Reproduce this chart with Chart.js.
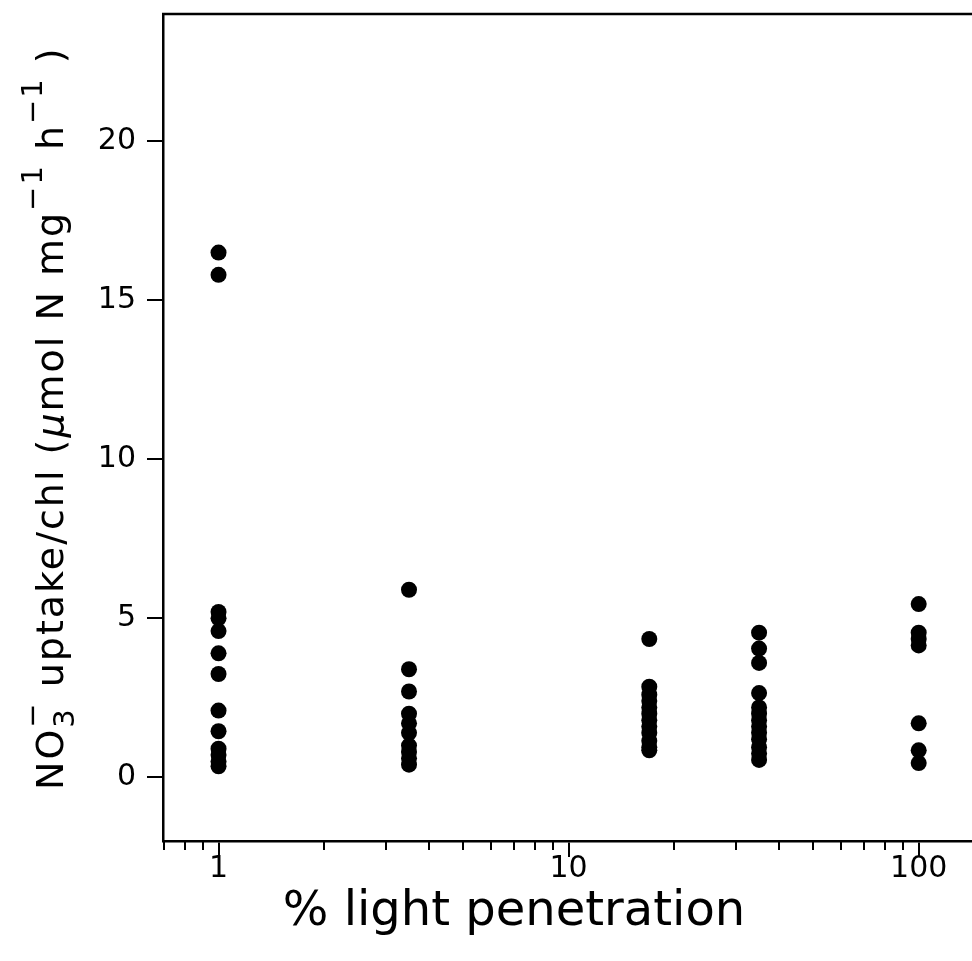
<!DOCTYPE html>
<html>
<head>
<meta charset="utf-8">
<script src="https://cdn.jsdelivr.net/npm/chart.js@4.4.1/dist/chart.umd.min.js"></script>
<style>
  html, body { margin: 0; padding: 0; background: #fff; }
  #wrap { width: 972px; height: 961px; }
</style>
</head>
<body>
<div id="wrap"><canvas id="c" width="972" height="961"></canvas></div>
<script>
// ----- data -----
const lightLevels = [1, 3.5, 17, 35, 100];
const uptake1   = [16.5, 15.8, 5.2, 5.0, 4.6, 3.9, 3.25, 2.1, 1.45, 0.9, 0.7, 0.5, 0.35];
const uptake3_5 = [5.9, 3.4, 2.7, 2.0, 1.7, 1.4, 1.0, 0.8, 0.6, 0.4];
const uptake17  = [4.35, 2.85, 2.6, 2.4, 2.2, 2.0, 1.8, 1.6, 1.4, 1.15, 0.95, 0.85];
const uptake35  = [4.55, 4.05, 3.6, 2.65, 2.2, 2.0, 1.8, 1.6, 1.4, 1.2, 0.95, 0.75, 0.55];
const uptake100 = [5.45, 4.55, 4.35, 4.15, 1.7, 0.85, 0.45];
const xMajorTicks = [1, 10, 100];
const xMinorTicks = [0.7, 0.8, 0.9, 2, 3, 4, 5, 6, 7, 8, 9, 20, 30, 40, 50, 60, 70, 80, 90];
const yTicks = [0, 5, 10, 15, 20];
const xRange = [0.694, 142];
const yRange = [-2, 24];
const xTitle = '% light penetration';

const groups = [uptake1, uptake3_5, uptake17, uptake35, uptake100];
const points = [];
groups.forEach((g, i) => g.forEach(v => points.push({ x: lightLevels[i], y: v })));

const FONT = "'DejaVu Sans', 'Liberation Sans', sans-serif";

const zeroPad = s => { s.paddingTop = 0; s.paddingBottom = 0; s.paddingLeft = 0; s.paddingRight = 0; };

const extraPlugin = {
  id: 'extra',
  afterDraw(chart) {
    const ctx = chart.ctx;
    const a = chart.chartArea;
    const xs = chart.scales.x;
    ctx.save();
    ctx.strokeStyle = '#000';
    // top border
    ctx.lineWidth = 2.5;
    ctx.beginPath();
    ctx.moveTo(a.left - 1, a.top);
    ctx.lineTo(a.right, a.top);
    ctx.stroke();
    // minor ticks on the log axis
    ctx.lineWidth = 2;
    xMinorTicks.forEach(v => {
      if (v < xRange[0] || v > xRange[1]) return;
      const px = Math.round(xs.getPixelForValue(v));
      ctx.beginPath();
      ctx.moveTo(px, a.bottom);
      ctx.lineTo(px, a.bottom + 9);
      ctx.stroke();
    });
    // x-axis title
    ctx.fillStyle = '#000';
    ctx.font = '48px ' + FONT;
    ctx.textAlign = 'center';
    ctx.textBaseline = 'alphabetic';
    ctx.fillText(xTitle, 514, 925);

    // y-axis title with sub/superscripts
    const size = 38;
    ctx.letterSpacing = '2px';
    const segs = [
      { t: 'NO', k: 'n' },
      { t: '3', k: 'sub', stackWith: '\u2212' },
      { t: ' uptake/chl (', k: 'n' },
      { t: '\u03bc', k: 'n', italic: true },
      { t: 'mol N mg', k: 'n' },
      { t: '\u22121', k: 'sup' },
      { t: ' h', k: 'n' },
      { t: '\u22121', k: 'sup' },
      { t: ' )', k: 'n' }
    ];
    const fontFor = (s, small) => (s.italic ? 'italic ' : '') + (small ? Math.round(size * 0.75) : size) + 'px ' + FONT;
    let total = 0;
    segs.forEach(s => {
      ctx.font = fontFor(s, s.k !== 'n');
      let w = ctx.measureText(s.t).width;
      if (s.stackWith) w = Math.max(w, ctx.measureText(s.stackWith).width);
      s.w = w;
      total += w;
    });
    ctx.translate(63, 790 - total / 2);
    ctx.rotate(-Math.PI / 2);
    ctx.textAlign = 'left';
    let x = -total / 2;
    segs.forEach(s => {
      ctx.font = fontFor(s, s.k !== 'n');
      if (s.k === 'n') ctx.fillText(s.t, x, 0);
      else if (s.k === 'sub') {
        ctx.fillText(s.t, x, size * 0.3);
        if (s.stackWith) ctx.fillText(s.stackWith, x, -size * 0.55);
      } else ctx.fillText(s.t, x, -size * 0.55);
      x += s.w;
    });
    ctx.restore();
  }
};

new Chart(document.getElementById('c'), {
  type: 'scatter',
  data: {
    datasets: [{
      data: points,
      backgroundColor: '#000',
      borderColor: '#000',
      pointRadius: 8,
      pointHoverRadius: 8,
      borderWidth: 0
    }]
  },
  options: {
    responsive: false,
    animation: false,
    events: [],
    layout: { autoPadding: false, padding: { top: 14, right: 0, left: 0, bottom: 0 } },
    plugins: { legend: { display: false }, tooltip: { enabled: false }, title: { display: false } },
    scales: {
      x: {
        type: 'logarithmic',
        min: xRange[0],
        max: xRange[1],
        afterBuildTicks: s => { s.ticks = xMajorTicks.map(v => ({ value: v, major: true })); },
        afterFit: s => { s.height = 120; zeroPad(s); },
        ticks: {
          color: '#000',
          font: { family: FONT, size: 30 },
          padding: -6,
          maxRotation: 0,
          autoSkip: false,
          callback: v => String(v)
        },
        grid: { drawOnChartArea: false, drawTicks: true, tickLength: 16, color: '#000', lineWidth: 2 },
        border: { display: true, color: '#000', width: 2.5 },
        title: { display: false }
      },
      y: {
        type: 'linear',
        min: yRange[0],
        max: yRange[1],
        afterBuildTicks: s => { s.ticks = yTicks.map(v => ({ value: v })); },
        afterFit: s => { s.width = 163; zeroPad(s); },
        ticks: { color: '#000', font: { family: FONT, size: 30 }, padding: 11 },
        grid: { drawOnChartArea: false, drawTicks: true, tickLength: 16, color: '#000', lineWidth: 2 },
        border: { display: true, color: '#000', width: 2.5 }
      }
    }
  },
  plugins: [extraPlugin]
});
</script>
</body>
</html>
